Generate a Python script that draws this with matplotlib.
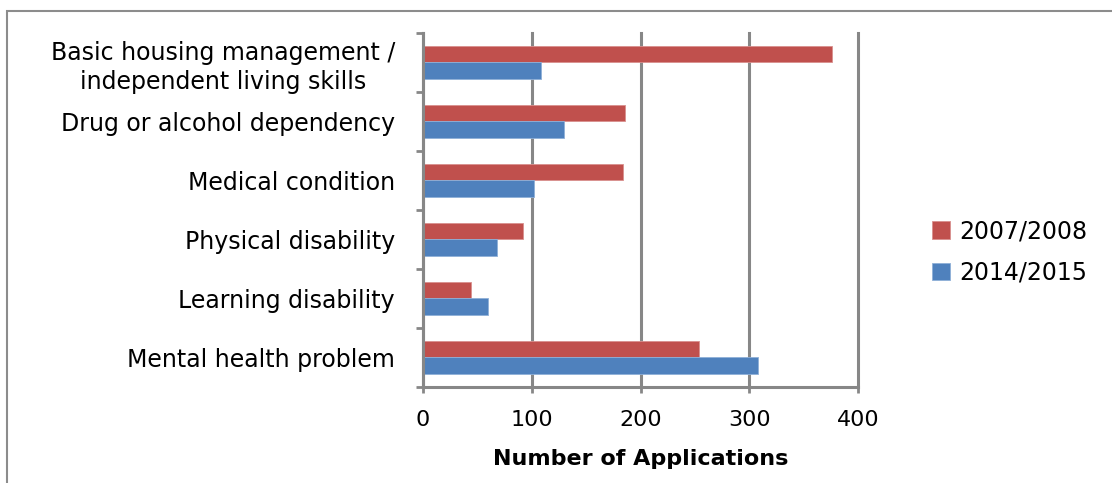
import matplotlib
matplotlib.use("Agg")
import matplotlib.pyplot as plt
from matplotlib.patches import Rectangle
import numpy as np

categories = ["Basic housing management /\nindependent living skills",
              "Drug or alcohol dependency",
              "Medical condition",
              "Physical disability",
              "Learning disability",
              "Mental health problem"]
series_names = ["2007/2008", "2014/2015"]
values_2007 = [376, 186, 184, 92, 44, 254]
values_2014 = [109, 130, 102, 68, 60, 308]
x_ticks = [0, 100, 200, 300, 400]

red = "#C0504D"
blue = "#4F81BD"
grid_c = "#878787"

plt.rcParams['font.family'] = ['DejaVu Sans']

fig = plt.figure(figsize=(11.12, 4.83), dpi=100)
ax = fig.add_axes([422.7/1112, 1-386.7/483, (858.3-422.7)/1112, (386.7-33)/483])

n = len(categories)
ypos = np.arange(n)[::-1]
h = 0.283
ax.barh(ypos + h/2, values_2007, height=h, color=red, edgecolor="#D9908E", linewidth=0.6, label=series_names[0], zorder=3)
ax.barh(ypos - h/2, values_2014, height=h, color=blue, edgecolor="#8FB0D8", linewidth=0.6, label=series_names[1], zorder=3)

ax.set_xlim(0, 400)
ax.set_ylim(-0.5, n - 0.5)
ax.set_xticks(x_ticks)
ax.set_xticklabels([str(v) for v in x_ticks], fontsize=16)
ax.set_yticks(np.arange(-0.5, n, 1.0))
ax.set_yticklabels([])
ax.set_yticks(ypos, minor=True)
ax.set_yticklabels(categories, minor=True, fontsize=17, multialignment='center',
                   linespacing=1.25)
ax.tick_params(axis='y', which='minor', length=0, pad=20)
ax.tick_params(axis='y', which='major', length=5, width=2, color=grid_c, direction='out')
ax.tick_params(axis='x', length=4.5, width=2, color=grid_c, direction='out', pad=12)

ax.grid(axis='x', color=grid_c, linewidth=2.2, zorder=0)
for gl in ax.get_xgridlines():
    gl.set_clip_on(False)
ax.set_axisbelow(True)
for s in ['top', 'right']:
    ax.spines[s].set_visible(False)
for s in ['left', 'bottom']:
    ax.spines[s].set_color(grid_c)
    ax.spines[s].set_linewidth(2.2)
    ax.spines[s].set_zorder(4)

ax.set_xlabel("Number of Applications", fontsize=16, fontweight='bold', labelpad=14)

leg = fig.legend(loc='upper left', bbox_to_anchor=(911/1112, 1-198/483), frameon=False,
                 fontsize=17, handlelength=0.75, handleheight=0.75, handletextpad=0.4,
                 labelspacing=0.75)

fig.add_artist(Rectangle((7/1112, -0.1), 1.2, 1.1 - 11/483, transform=fig.transFigure,
                         fill=False, edgecolor="#8C8C8C", linewidth=1.5))

fig.savefig("out.png", dpi=100)
